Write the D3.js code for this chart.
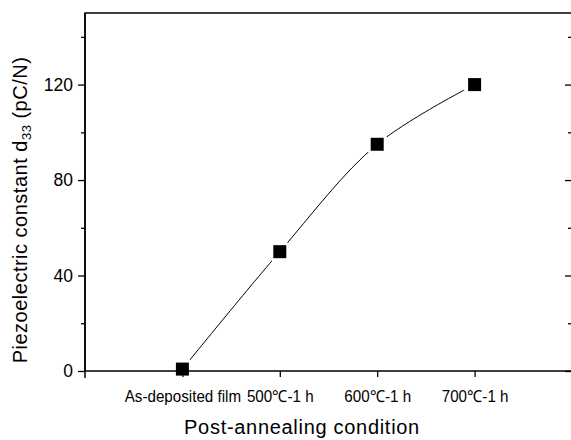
<!DOCTYPE html>
<html>
<head>
<meta charset="utf-8">
<script src="https://cdn.jsdelivr.net/npm/d3@7"></script>
<style>
  body { margin: 0; background: #fff; }
  text { font-family: "Liberation Sans", Arial, sans-serif; fill: #000; }
</style>
</head>
<body>
<svg id="chart"></svg>
<script>
// data
const conditions = ["As-deposited film", "500℃-1 h", "600℃-1 h", "700℃-1 h"];
const d33 = [0.8, 50, 95, 120];
const yMajor = [0, 40, 80, 120];
const yMinor = [20, 60, 100, 140];

const width = 571, height = 440;
const padL = 85, padR = 572, padT = 13, padB = 371;

const svg = d3.select("#chart").attr("width", width).attr("height", height);

// x: categories sit at 1..4 on a 0..5 axis
const x = d3.scaleLinear().domain([0, 5]).range([padL, padR]);
const y = d3.scaleLinear().domain([0, 150]).range([padB, padT]);

const pts = d33.map((v, i) => [x(i + 1), y(v)]);

// mask so the curve stops short of each marker
const defs = svg.append("defs");
const mask = defs.append("mask").attr("id", "gap")
    .attr("maskUnits", "userSpaceOnUse")
    .attr("x", 0).attr("y", 0).attr("width", width).attr("height", height);
mask.append("rect").attr("width", width).attr("height", height).attr("fill", "#fff");
mask.selectAll("circle").data(pts).enter().append("circle")
    .attr("cx", d => d[0]).attr("cy", d => d[1]).attr("r", 12).attr("fill", "#000");

const line = d3.line().curve(d3.curveCatmullRom.alpha(0.5));
svg.append("path")
    .attr("d", line(pts))
    .attr("fill", "none")
    .attr("stroke", "#000")
    .attr("stroke-width", 1)
    .attr("mask", "url(#gap)");

// frame
svg.append("rect")
    .attr("x", padL).attr("y", padT)
    .attr("width", padR - padL).attr("height", padB - padT)
    .attr("fill", "none").attr("stroke", "#000").attr("stroke-width", 1.5);

// left axis: outward ticks
const yAxis = d3.axisLeft(y).tickValues(yMajor).tickSize(7).tickPadding(5);
const gy = svg.append("g").attr("transform", "translate(" + padL + ",0)").call(yAxis);
gy.select(".domain").remove();
gy.selectAll("line").attr("stroke-width", 1.3);
gy.selectAll("text").style("font-size", "17.5px");
svg.append("g").attr("transform", "translate(" + padL + ",0)")
    .call(d3.axisLeft(y).tickValues(yMinor).tickSize(4).tickFormat(""))
    .call(g => g.select(".domain").remove())
    .selectAll("line").attr("stroke-width", 1.3);
svg.append("line").attr("x1", padL).attr("x2", padL)
    .attr("y1", padT).attr("y2", padB + 7).attr("stroke", "#000").attr("stroke-width", 1.5);

// right axis: inward ticks
svg.append("g").attr("transform", "translate(" + padR + ",0)")
    .call(d3.axisRight(y).tickValues(yMajor).tickSize(-7).tickFormat(""))
    .call(g => g.select(".domain").remove())
    .selectAll("line").attr("stroke-width", 1.3);
svg.append("g").attr("transform", "translate(" + padR + ",0)")
    .call(d3.axisRight(y).tickValues(yMinor).tickSize(-4).tickFormat(""))
    .call(g => g.select(".domain").remove())
    .selectAll("line").attr("stroke-width", 1.3);

// bottom axis
const xAxis = d3.axisBottom(x).tickValues([1, 2, 3, 4]).tickSize(6).tickPadding(13)
    .tickFormat(d => conditions[d - 1]);
const gx = svg.append("g").attr("transform", "translate(0," + padB + ")").call(xAxis);
gx.select(".domain").remove();
gx.selectAll("line").attr("stroke-width", 1.3);
gx.selectAll("text")
    .style("font-size", "16.5px")
    .attr("transform", "scale(0.92,1)");

// markers
svg.selectAll("rect.pt").data(pts).enter().append("rect")
    .attr("class", "pt")
    .attr("x", d => d[0] - 6.5).attr("y", d => d[1] - 6.5)
    .attr("width", 13).attr("height", 13).attr("fill", "#000");

// titles
svg.append("text")
    .attr("x", 302).attr("y", 434)
    .attr("text-anchor", "middle")
    .style("font-size", "20px")
    .style("letter-spacing", "0.7px")
    .text("Post-annealing condition");

const yt = svg.append("text")
    .attr("transform", "translate(27,210) rotate(-90)")
    .attr("text-anchor", "middle")
    .style("font-size", "20px")
    .style("letter-spacing", "0.5px");
yt.append("tspan").text("Piezoelectric constant d");
yt.append("tspan").attr("dy", 4).style("font-size", "13px").text("33");
yt.append("tspan").attr("dy", -4).text(" (pC/N)");
</script>
</body>
</html>
